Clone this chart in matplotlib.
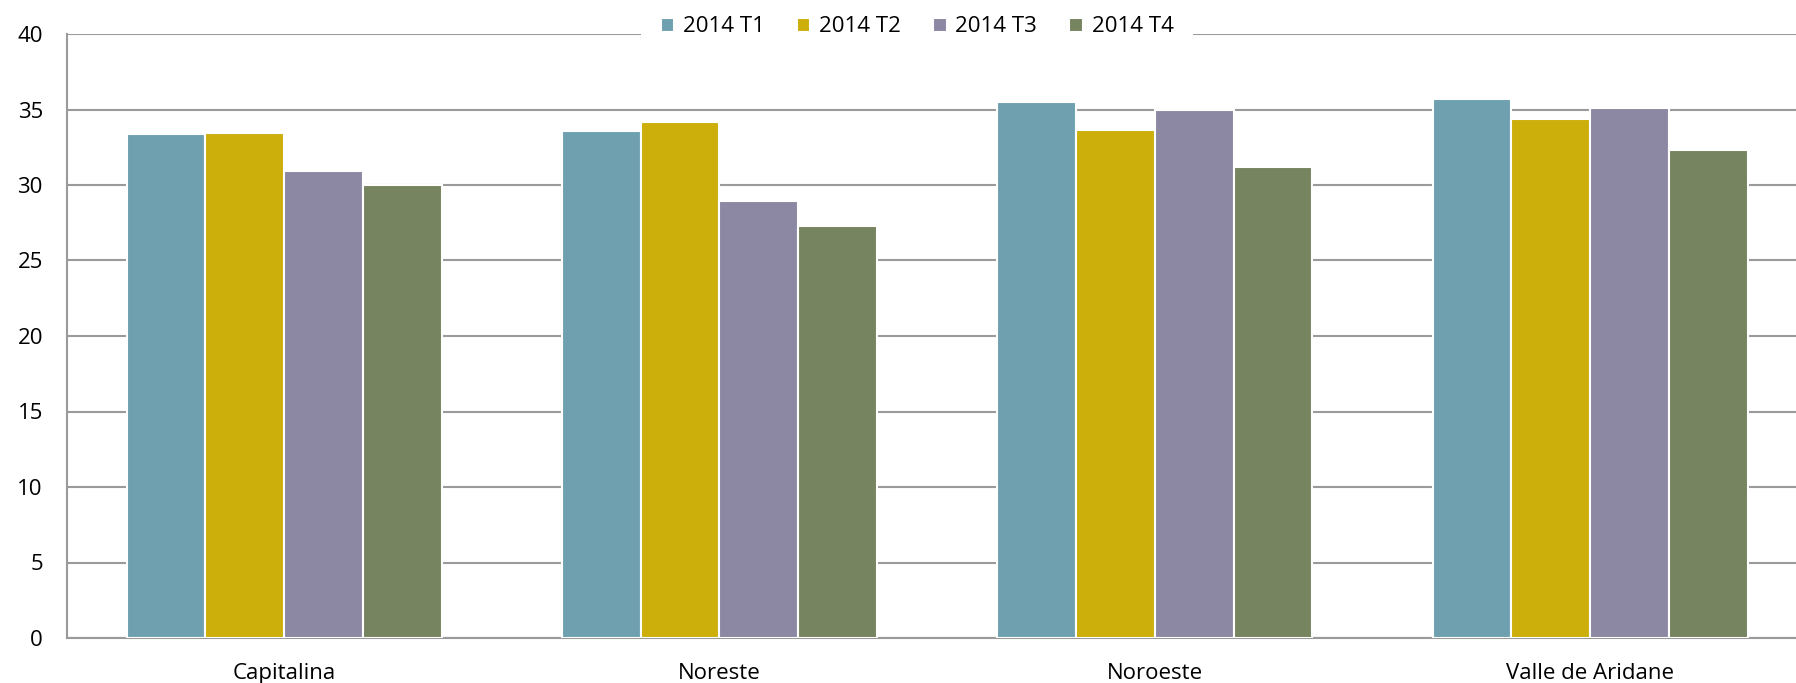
import matplotlib
matplotlib.use("Agg")
import matplotlib.pyplot as plt
import numpy as np

categories = ["Capitalina", "Noreste", "Noroeste", "Valle de Aridane"]
series_names = ["2014 T1", "2014 T2", "2014 T3", "2014 T4"]
t1 = [33.4, 33.6, 35.5, 35.7]
t2 = [33.45, 34.2, 33.65, 34.35]
t3 = [30.9, 28.95, 34.95, 35.1]
t4 = [30.0, 27.3, 31.2, 32.3]
yticks = [0, 5, 10, 15, 20, 25, 30, 35, 40]

colors = ["#6FA0B0", "#CCAF0A", "#8C88A4", "#768460"]

plt.rcParams['font.family'] = ['Open Sans', 'DejaVu Sans']

W, H = 1796, 683
fig = plt.figure(figsize=(W / 100, H / 100), dpi=100)
left, right, top, bottom = 66.5, 1796, 34, 638
ax = fig.add_axes([left / W, 1 - bottom / H, (right - left) / W, (bottom - top) / H])

x = np.arange(len(categories))
bw = 0.181
data = [t1, t2, t3, t4]
for i, (vals, name, c) in enumerate(zip(data, series_names, colors)):
    ax.bar(x + (i - 1.5) * bw, vals, bw, color=c, edgecolor="white", linewidth=1.5,
           label=name, zorder=3)

ax.set_ylim(0, 40)
ax.set_xlim(-0.5, 3.473)
ax.set_yticks(yticks)
ax.set_yticklabels([str(v) for v in yticks], fontsize=16)
ax.set_xticks(x)
ax.set_xticklabels(categories, fontsize=16)
ax.tick_params(axis='y', length=0, pad=17)
ax.tick_params(axis='x', length=0, pad=18)
ax.yaxis.grid(True, color="#9a9a9a", linewidth=1.5, zorder=0)
ax.set_axisbelow(True)
for s in ["top", "right"]:
    ax.spines[s].set_visible(False)
for s in ["left", "bottom"]:
    ax.spines[s].set_color("#9a9a9a")
    ax.spines[s].set_linewidth(1.5)

leg = fig.legend(loc="center", bbox_to_anchor=(917 / W, 1 - 27 / H), ncol=4,
                 fontsize=16, frameon=True, fancybox=False, edgecolor="none",
                 facecolor="white", framealpha=1, handlelength=0.6, handleheight=0.6,
                 handletextpad=0.4, columnspacing=1.45, borderpad=0.9)

fig.savefig("out.png", dpi=100)
